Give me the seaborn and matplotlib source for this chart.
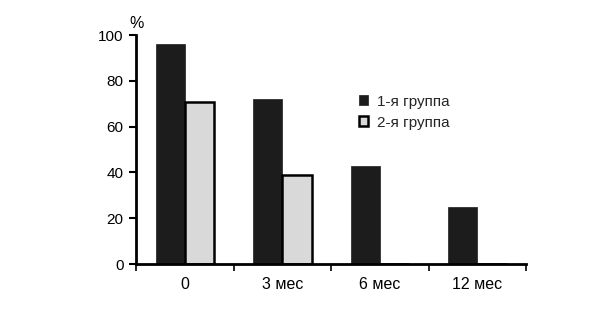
import matplotlib
matplotlib.use("Agg")
import matplotlib.pyplot as plt
import seaborn as sns
import pandas as pd
from matplotlib.ticker import FixedLocator
from matplotlib.patches import Patch

categories = ["0", "3 мес", "6 мес", "12 мес"]
group1 = [96, 72, 43, 25]
group2 = [71, 39, 0, 0]
series_names = ["1-я группа", "2-я группа"]
yticks = [0, 20, 40, 60, 80, 100]

sns.set_theme(style="white")
plt.rcParams['font.family'] = ['Liberation Sans', 'DejaVu Sans']

df = pd.DataFrame({
    "cat": categories * 2,
    "val": group1 + group2,
    "grp": [series_names[0]] * 4 + [series_names[1]] * 4,
})

fig = plt.figure(figsize=(6, 3.11), dpi=100)
ax = fig.add_axes([0.227, 0.151, 0.65, 0.736])

palette = {series_names[0]: "#1c1c1c", series_names[1]: "#d9d9d9"}
sns.barplot(data=df, x="cat", y="val", hue="grp", order=categories,
            hue_order=series_names, palette=palette, width=0.6,
            saturation=1, ax=ax, legend=False)

for bar in ax.patches:
    fc = bar.get_facecolor()
    if fc[0] > 0.5:
        bar.set_edgecolor("black")
        bar.set_linewidth(1.8)
    else:
        bar.set_edgecolor("#1c1c1c")
        bar.set_linewidth(0.5)

ax.set_ylim(0, 100)
ax.set_xlim(-0.5, 3.5)
ax.set_yticks(yticks)
ax.set_xlabel("")
ax.set_ylabel("")

for s in ["top", "right"]:
    ax.spines[s].set_visible(False)
for s in ["left", "bottom"]:
    ax.spines[s].set_linewidth(2)
    ax.spines[s].set_color("black")

ax.tick_params(axis="y", which="major", direction="out", length=5, width=1.5,
               left=True, labelsize=11, colors="black", pad=4)
ax.tick_params(axis="x", which="major", length=0, labelsize=11.5, pad=9,
               colors="black")
ax.xaxis.set_minor_locator(FixedLocator([-0.5, 0.5, 1.5, 2.5, 3.5]))
ax.tick_params(axis="x", which="minor", direction="out", length=5, width=1.2,
               bottom=True, color="black")

ax.text(-0.017, 1.02, "%", transform=ax.transAxes, fontsize=11.5,
        ha="left", va="bottom", color="black")

handles = [Patch(facecolor=palette[series_names[0]], edgecolor="#1c1c1c", linewidth=0.5),
           Patch(facecolor=palette[series_names[1]], edgecolor="black", linewidth=1.8)]
ax.legend(handles, series_names, loc="upper left", bbox_to_anchor=(0.535, 0.8),
          frameon=False, fontsize=11, handlelength=0.6, handleheight=0.6,
          handletextpad=0.6, labelspacing=0.45)

fig.savefig("out.png", dpi=100, facecolor="white")
